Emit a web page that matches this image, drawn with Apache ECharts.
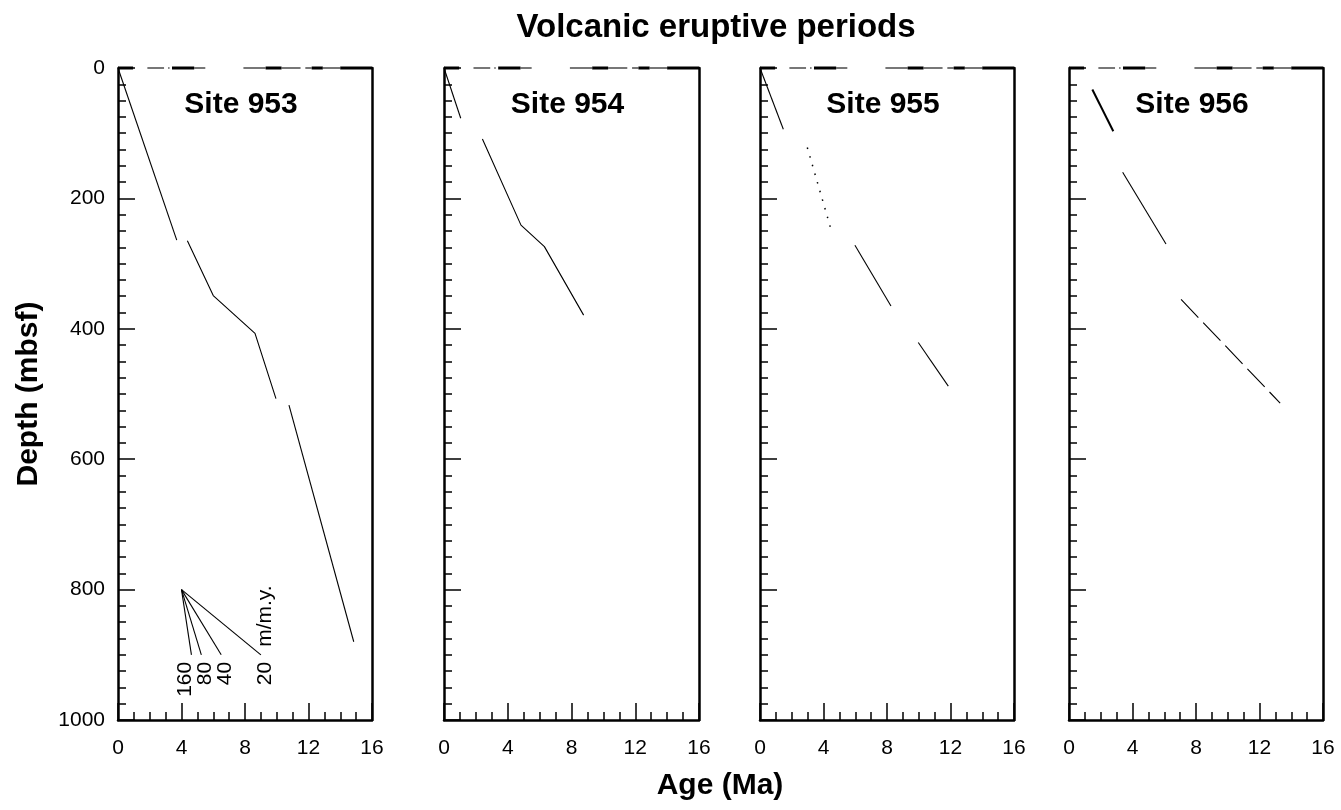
<!DOCTYPE html>
<html>
<head>
<meta charset="utf-8">
<script src="https://cdn.jsdelivr.net/npm/echarts@6/dist/echarts.min.js"></script>
<style>
  html, body { margin: 0; padding: 0; background: #fff; }
  #chart { width: 1341px; height: 810px; }
</style>
</head>
<body>
<div id="chart"></div>
<script>
// ---------------- DATA ----------------
const siteNames = ['Site 953', 'Site 954', 'Site 955', 'Site 956'];
const xTicks = [0, 4, 8, 12, 16];
const yTicks = [0, 200, 400, 600, 800, 1000];

// Age (Ma) vs depth (mbsf) segments per site
const site953 = [
  [[0, 0], [3.7, 264]],
  [[4.37, 265], [6.0, 349], [8.63, 407], [9.95, 507]],
  [[10.77, 517], [14.85, 880]]
];
const site953Styles = ['solid', 'solid', 'solid'];

const site954 = [
  [[0, 0], [1.05, 77]],
  [[2.41, 109], [4.83, 241], [6.3, 274], [8.76, 379]]
];
const site954Styles = ['solid', 'solid'];

const site955 = [
  [[0, 0], [1.47, 94]],
  [[2.98, 122], [4.55, 254]],
  [[5.98, 272], [8.25, 365]],
  [[9.97, 421], [11.86, 488]]
];
const site955Styles = ['solid', 'dotted', 'solid', 'solid'];

const site956 = [
  [[1.47, 33], [2.79, 97]],
  [[3.38, 160], [6.11, 270]],
  [[7.06, 355], [13.3, 514]]
];
const site956Styles = ['thick', 'solid', 'dashed'];

// Volcanic eruptive periods (age ranges, Ma) drawn along the top edge
const eruptiveMajor = [[0, 0.95], [3.4, 4.8], [9.3, 10.3], [12.2, 12.9], [14.0, 16]];
const eruptiveMinor = [[1.85, 2.9], [3.15, 3.25], [4.8, 5.5], [7.9, 9.3], [10.3, 11.5], [11.8, 12.2], [12.9, 14.0]];

// Sedimentation-rate legend (Site 953 panel)
const rateOrigin = [4, 800];
const rateLabels = ['160', '80', '40', '20'];
const rateEnds = [[4.625, 900], [5.25, 900], [6.5, 900], [9.0, 900]];
const rateUnit = 'm/m.y.';

// ---------------- LAYOUT ----------------
const FONT = '"Liberation Sans", Arial, Helvetica, sans-serif';
const grids = [
  { left: 118, top: 68, width: 254, height: 652 },
  { left: 444, top: 68, width: 255, height: 652 },
  { left: 760, top: 68, width: 254, height: 652 },
  { left: 1069, top: 68, width: 254, height: 652 }
];
const sites = [site953, site954, site955, site956];
const styles = [site953Styles, site954Styles, site955Styles, site956Styles];

const xAxes = [], yAxes = [], series = [];
grids.forEach((g, i) => {
  xAxes.push({
    gridIndex: i, type: 'value', min: 0, max: 16, interval: 4,
    axisLine: { show: true, onZero: false, lineStyle: { color: '#000', width: 2.5 } },
    axisTick: { show: true, inside: true, length: 17, lineStyle: { color: '#000', width: 1.5 } },
    minorTick: { show: true, splitNumber: 4, length: 8, lineStyle: { color: '#000', width: 1.5 } },
    splitLine: { show: false },
    axisLabel: { show: true, color: '#000', fontSize: 21, fontFamily: FONT, margin: 18,
                 showMinLabel: true, showMaxLabel: true, formatter: v => String(v) }
  });
  yAxes.push({
    gridIndex: i, type: 'value', min: 0, max: 1000, interval: 200, inverse: true,
    name: i === 0 ? 'Depth (mbsf)' : '',
    nameLocation: 'middle', nameGap: 74, nameRotate: 90,
    nameTextStyle: { color: '#000', fontSize: 30, fontWeight: 'bold', fontFamily: FONT },
    axisLine: { show: true, onZero: false, lineStyle: { color: '#000', width: 2.5 } },
    axisTick: { show: true, inside: true, length: 17, lineStyle: { color: '#000', width: 1.5 } },
    minorTick: { show: true, splitNumber: 8, length: 8, lineStyle: { color: '#000', width: 1.5 } },
    splitLine: { show: false },
    axisLabel: { show: i === 0, color: '#000', fontSize: 21, fontFamily: FONT, margin: 13,
                 showMinLabel: true, showMaxLabel: true, formatter: v => String(v) }
  });
  // right border
  yAxes.push({
    gridIndex: i, type: 'value', min: 0, max: 1000, inverse: true, position: 'right',
    axisLine: { show: true, onZero: false, lineStyle: { color: '#000', width: 2.5 } },
    axisTick: { show: false }, axisLabel: { show: false }, splitLine: { show: false }
  });
  const yIdx = i * 2;

  // eruptive periods along top edge
  eruptiveMinor.forEach(r => series.push({
    type: 'line', xAxisIndex: i, yAxisIndex: yIdx, data: [[r[0], 0], [r[1], 0]],
    symbol: 'none', clip: false, silent: true, z: 3,
    lineStyle: { color: '#5f5f5f', width: 1.7, cap: 'butt' }
  }));
  eruptiveMajor.forEach(r => series.push({
    type: 'line', xAxisIndex: i, yAxisIndex: yIdx, data: [[r[0], 0], [r[1], 0]],
    symbol: 'none', clip: false, silent: true, z: 4,
    lineStyle: { color: '#000', width: 3, cap: 'butt' }
  }));

  // age-depth segments
  sites[i].forEach((seg, k) => {
    const st = styles[i][k];
    let ls = { color: '#000', width: 1.1, type: 'solid' };
    if (st === 'thick') ls = { color: '#000', width: 2, type: 'solid' };
    if (st === 'dotted') ls = { color: '#000', width: 1.5, type: [1.5, 7.5] };
    if (st === 'dashed') ls = { color: '#000', width: 1.1, type: [25, 7] };
    series.push({
      type: 'line', xAxisIndex: i, yAxisIndex: yIdx, data: seg,
      symbol: 'none', silent: true, z: 5, lineStyle: ls
    });
  });
});

// rate legend fan lines
rateEnds.forEach(e => series.push({
  type: 'line', xAxisIndex: 0, yAxisIndex: 0, data: [rateOrigin, e],
  symbol: 'none', silent: true, z: 5, lineStyle: { color: '#000', width: 1.1 }
}));

const chart = echarts.init(document.getElementById('chart'), null, { renderer: 'canvas' });
chart.setOption({
  animation: false,
  backgroundColor: '#fff',
  grid: grids.map(g => Object.assign({ containLabel: false }, g)),
  xAxis: xAxes,
  yAxis: yAxes,
  series: series
});

// ---------------- TEXT (positioned via the library's scales) ----------------
const graphics = [];
graphics.push({
  type: 'text', x: 716, y: 28,
  style: { text: 'Volcanic eruptive periods', align: 'center', verticalAlign: 'middle',
           font: 'bold 33px ' + FONT, fill: '#000' }
});
graphics.push({
  type: 'text', x: 720, y: 786,
  style: { text: 'Age (Ma)', align: 'center', verticalAlign: 'middle',
           font: 'bold 30px ' + FONT, fill: '#000' }
});
grids.forEach((g, i) => {
  const p = chart.convertToPixel({ gridIndex: i }, [8, 56]);
  graphics.push({
    type: 'text', x: p[0] - 4, y: p[1],
    style: { text: siteNames[i], align: 'center', verticalAlign: 'middle',
             font: 'bold 30px ' + FONT, fill: '#000' }
  });
});
rateEnds.forEach((e, k) => {
  const p = chart.convertToPixel({ gridIndex: 0 }, e);
  const dx = k === 0 ? -6 : 4;
  graphics.push({
    type: 'text', x: p[0] + dx, y: p[1] + 7, rotation: Math.PI / 2,
    style: { text: rateLabels[k], align: 'right', verticalAlign: 'middle',
             font: '21px ' + FONT, fill: '#000' }
  });
  if (k === rateEnds.length - 1) {
    graphics.push({
      type: 'text', x: p[0] + dx, y: p[1] - 8, rotation: Math.PI / 2,
      style: { text: rateUnit, align: 'left', verticalAlign: 'middle',
               font: '21px ' + FONT, fill: '#000' }
    });
  }
});
chart.setOption({ graphic: graphics });
</script>
</body>
</html>
